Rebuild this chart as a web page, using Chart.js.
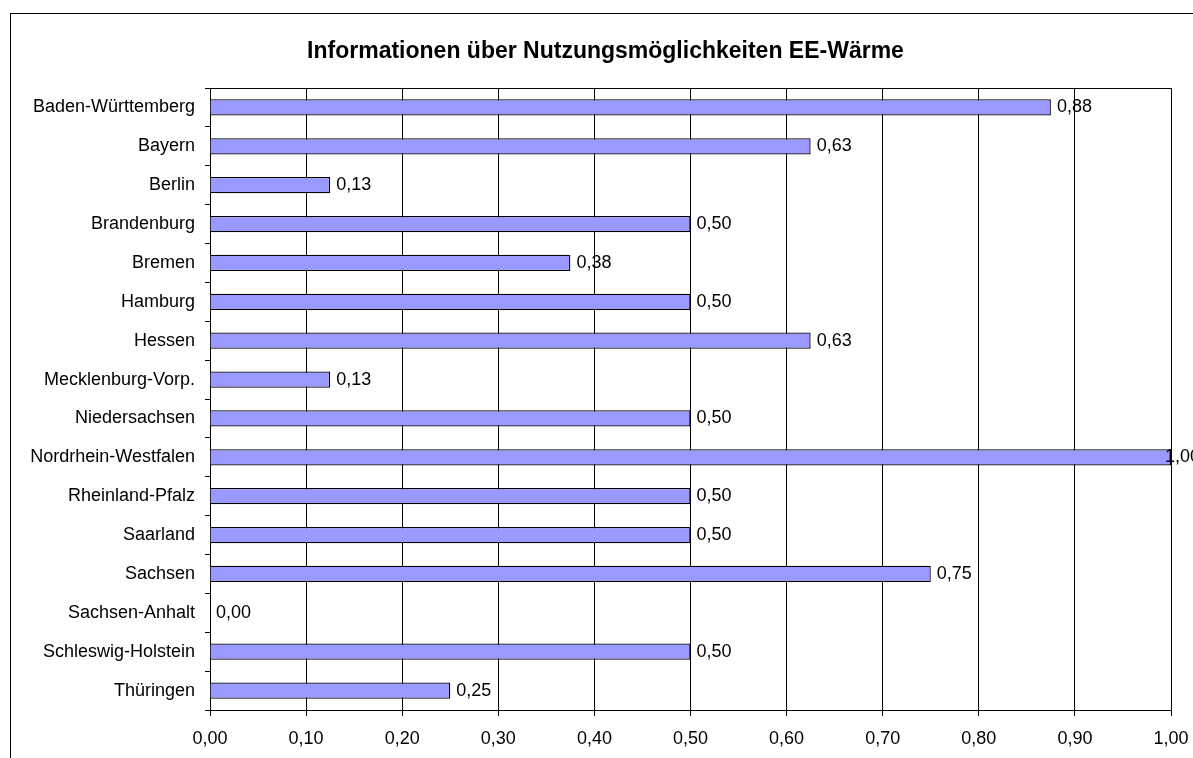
<!DOCTYPE html>
<html>
<head>
<meta charset="utf-8">
<script src="https://cdn.jsdelivr.net/npm/chart.js@4/dist/chart.umd.min.js"></script>
<style>
  html, body { margin: 0; padding: 0; background: #fff; }
  #wrap { width: 1193px; height: 758px; }
</style>
</head>
<body>
<div id="wrap"><canvas id="c" width="1193" height="758"></canvas></div>
<script>
const chartTitle = 'Informationen über Nutzungsmöglichkeiten EE-Wärme';
const categories = [
  'Baden-Württemberg', 'Bayern', 'Berlin', 'Brandenburg', 'Bremen', 'Hamburg',
  'Hessen', 'Mecklenburg-Vorp.', 'Niedersachsen', 'Nordrhein-Westfalen',
  'Rheinland-Pfalz', 'Saarland', 'Sachsen', 'Sachsen-Anhalt',
  'Schleswig-Holstein', 'Thüringen'
];
const values = [0.875, 0.625, 0.125, 0.5, 0.375, 0.5, 0.625, 0.125, 0.5, 1.0, 0.5, 0.5, 0.75, 0.0, 0.5, 0.25];
const xMin = 0;
const xMax = 1;
const xStep = 0.1;

function fmt(v) { return v.toFixed(2).replace('.', ','); }

Chart.defaults.font.family = '"Liberation Sans", Arial, sans-serif';
Chart.defaults.color = '#000';

const frame = {
  id: 'frame',
  afterLayout(chart) {
    const t = chart.titleBlock;
    if (t) { t.left += 15; t.right += 15; }
  },
  beforeDraw(chart) {
    const ctx = chart.ctx;
    ctx.save();
    ctx.fillStyle = '#fff';
    ctx.fillRect(0, 0, chart.width, chart.height);
    ctx.strokeStyle = '#000';
    ctx.lineWidth = 1;
    ctx.strokeRect(10.5, 13.5, 3000, 3000);
    ctx.restore();
  },
  afterDraw(chart) {
    const a = chart.chartArea;
    const ctx = chart.ctx;
    ctx.save();
    ctx.strokeStyle = '#000';
    ctx.lineWidth = 1;
    ctx.beginPath();
    ctx.moveTo(Math.round(a.left) + 0.5, Math.round(a.top) + 0.5);
    ctx.lineTo(Math.round(a.right) + 0.5, Math.round(a.top) + 0.5);
    ctx.stroke();
    ctx.restore();
  }
};

const valueLabels = {
  id: 'valueLabels',
  afterDatasetsDraw(chart) {
    const ctx = chart.ctx;
    const meta = chart.getDatasetMeta(0);
    ctx.save();
    ctx.font = '18px "Liberation Sans", Arial, sans-serif';
    ctx.fillStyle = '#000';
    ctx.textAlign = 'left';
    ctx.textBaseline = 'middle';
    meta.data.forEach((bar, i) => {
      const x = Math.min(bar.x + 6, chart.width - 28);
      ctx.fillText(fmt(values[i]), x, bar.y);
    });
    ctx.restore();
  }
};

new Chart(document.getElementById('c'), {
  type: 'bar',
  data: {
    labels: categories,
    datasets: [{
      data: values,
      backgroundColor: '#9999FF',
      borderColor: '#000000',
      borderWidth: 1.3,
      borderSkipped: 'start',
      barPercentage: 0.42,
      categoryPercentage: 1
    }]
  },
  options: {
    indexAxis: 'y',
    responsive: false,
    animation: false,
    devicePixelRatio: 1,
    layout: { padding: { left: 10, right: 22, top: 0, bottom: 0 } },
    plugins: {
      legend: { display: false },
      tooltip: { enabled: false },
      title: {
        display: true,
        text: chartTitle,
        color: '#000',
        font: { size: 23, weight: 'bold' },
        padding: { top: 38, bottom: 22.4 }
      }
    },
    scales: {
      x: {
        min: xMin,
        max: xMax,
        grid: { color: '#000', lineWidth: 1, tickLength: 6, drawTicks: true },
        border: { display: true, color: '#000' },
        ticks: {
          stepSize: xStep,
          padding: 12,
          font: { size: 18 },
          color: '#000',
          maxRotation: 0,
          callback: (v) => fmt(v)
        },
        afterFit(scale) { scale.height = 48; scale.paddingLeft = 0; scale.paddingRight = 0; }
      },
      y: {
        grid: { offset: true, drawOnChartArea: false, color: '#000', tickLength: 5 },
        border: { display: true, color: '#000' },
        ticks: { padding: 10, font: { size: 18 }, color: '#000', autoSkip: false },
        afterFit(scale) { scale.width = 200; scale.paddingTop = 0; scale.paddingBottom = 0; }
      }
    }
  },
  plugins: [frame, valueLabels]
});
</script>
</body>
</html>
